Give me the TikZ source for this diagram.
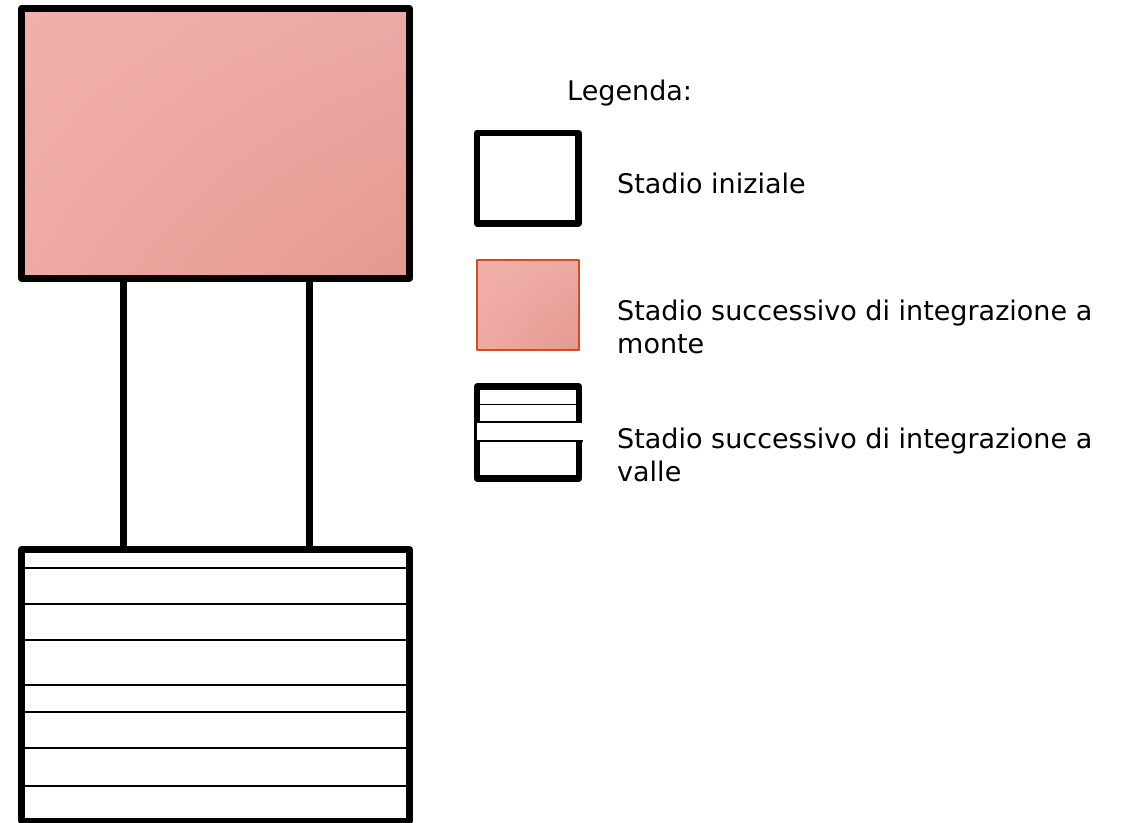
\documentclass[tikz,border=0pt]{standalone}
\usepackage{fontspec}
\setmainfont{DejaVu Sans}
\usetikzlibrary{calc,shadings}

\definecolor{pinklight}{RGB}{243,175,169}
\definecolor{pinkmid}{RGB}{236,169,165}
\definecolor{pinklow}{RGB}{238,170,164}
\definecolor{pinkdark}{RGB}{228,153,143}
\definecolor{rimred}{RGB}{214,76,30}

\begin{document}
\begin{tikzpicture}[x=1pt,y=-1pt,line join=round,
    lbl/.style={anchor=base west,inner sep=0pt,font=\fontsize{27}{33}\selectfont}]
    \def\thk{6.5pt}
    \def\thn{1.8pt}
    \useasboundingbox (0,0) rectangle (1124,822);
    % main boxes
    \coordinate (TA) at ( 21.7,  8.3);
    \coordinate (TB) at (409.7,278.3);
    \coordinate (BA) at ( 21.7,549.3);
    \coordinate (BB) at (409.7,821.0);
    \coordinate (LT) at (123.3,278.3);
    \coordinate (RT) at (309.3,278.3);
    \coordinate (LB) at (123.3,549.3);
    \coordinate (RB) at (309.3,549.3);
    % legend boxes
    \coordinate (IA) at (477.0,133.0);
    \coordinate (IB) at (578.3,223.3);
    \coordinate (MA) at (477.0,260.0);
    \coordinate (MB) at (579.0,350.0);
    \coordinate (VA) at (477.0,386.7);
    \coordinate (VB) at (579.0,478.3);
    \shade[upper left=pinklight,upper right=pinkmid,lower left=pinklow,lower right=pinkdark] (TA) rectangle (TB);
    \draw[line width=\thk] (TA) rectangle (TB);
    \draw[line width=\thk] (LT) -- (LB);
    \draw[line width=\thk] (RT) -- (RB);
    \foreach \y in {568.3,604,640,685.3,712,748.3,786}
      \draw[line width=\thn] (BA |- 0,\y) -- (BB |- 0,\y);
    \draw[line width=\thk] (BA) rectangle (BB);
    \draw[line width=\thk] (IA) rectangle (IB);
    \shade[upper left=pinklight,upper right=pinkmid,lower left=pinklow,lower right=pinkdark] (MA) rectangle (MB);
    \draw[line width=2.4pt,rimred] (MA) rectangle (MB);
    \foreach \y in {404.5,421.7}
      \draw[line width=\thn] (VA |- 0,\y) -- (VB |- 0,\y);
    \draw[line width=\thk] (VA) rectangle (VB);
    \fill[white] (476.7,423.3) rectangle (583.3,440);
    \draw[line width=2.3pt] (476.7,441.2) -- (583.3,441.2);
    % texts
    \node[lbl] (leg) at (567,100.7) {Legenda:};
    \node[lbl] (ini) at (617,193.3) {Stadio iniziale};
    \node[lbl] (mon1) at (617,320) {Stadio successivo di integrazione a};
    \node[lbl] (mon2) at (617,353.3) {monte};
    \node[lbl] (val1) at (617,448.3) {Stadio successivo di integrazione a};
    \node[lbl] (val2) at (617,481.7) {valle};
\end{tikzpicture}
\end{document}
